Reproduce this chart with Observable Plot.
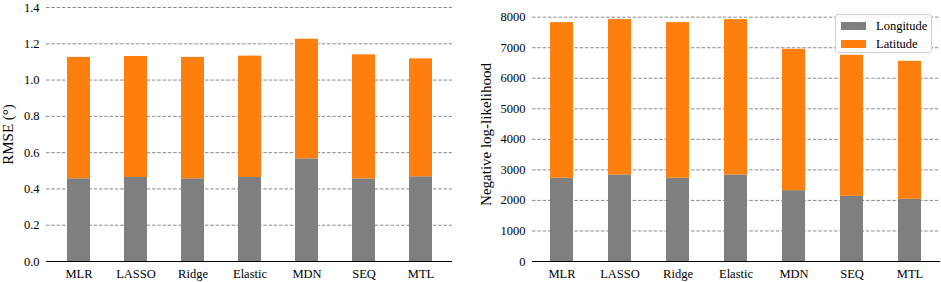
<!DOCTYPE html>
<html>
<head>
<meta charset="utf-8">
<script src="https://cdn.jsdelivr.net/npm/d3@7"></script>
<script src="https://cdn.jsdelivr.net/npm/@observablehq/plot@0.6"></script>
<style>
  html, body { margin: 0; padding: 0; background: #fff; }
  #wrap { position: relative; width: 941px; height: 282px; font-family: "Liberation Serif", "Times New Roman", serif; }
  #left { position: absolute; left: 0; top: 0; }
  #right { position: absolute; left: 470px; top: 0; }
  #legend { position: absolute; left: 835px; top: 14px; width: 97px; height: 39px; border: 1px solid #d0d0d0; border-radius: 3px; background: rgba(255,255,255,0.85); font-size: 12.5px; box-sizing: border-box; }
  .item { position: absolute; left: 5px; height: 12px; display: flex; align-items: center; }
  .sw { width: 25px; height: 8px; margin-right: 10px; }
</style>
</head>
<body>
<div id="wrap">
  <div id="left"></div>
  <div id="right"></div>
  <div id="legend"></div>
</div>
<script>
const models = ["MLR", "LASSO", "Ridge", "Elastic", "MDN", "SEQ", "MTL"];
const seriesNames = ["Longitude", "Latitude"];
const seriesColors = ["#7f7f7f", "#ff7f0e"];
const rmseLongitude = [0.456, 0.463, 0.456, 0.463, 0.566, 0.455, 0.467];
const rmseLatitude  = [0.669, 0.667, 0.669, 0.669, 0.659, 0.684, 0.650];
const nllLongitude = [2725, 2834, 2725, 2834, 2320, 2134, 2035];
const nllLatitude  = [5098, 5087, 5098, 5087, 4629, 4618, 4520];
const rmseTicks = [0, 0.2, 0.4, 0.6, 0.8, 1.0, 1.2, 1.4];
const nllTicks = [0, 1000, 2000, 3000, 4000, 5000, 6000, 7000, 8000];

function rows(lon, lat) {
  const out = [];
  models.forEach((m, i) => out.push({model: m, series: "Longitude", value: lon[i]}));
  models.forEach((m, i) => out.push({model: m, series: "Latitude", value: lat[i]}));
  return out;
}

function chart({data, width, marginLeft, marginRight, domain, ticks, format, label, labelOffset}) {
  return Plot.plot({
    width, height: 282,
    marginLeft, marginRight, marginTop: 7, marginBottom: 21,
    style: {fontFamily: '"Liberation Serif", "Times New Roman", serif', fontSize: "12.5px", color: "#000", background: "#fff"},
    x: {domain: models, paddingInner: 0.6, paddingOuter: 0.31, label: null},
    y: {domain, label: null},
    color: {domain: seriesNames, range: seriesColors},
    marks: [
      Plot.gridY(ticks.filter(t => t > 0), {stroke: "#8a8a8a", strokeOpacity: 1, strokeWidth: 1, strokeDasharray: "3.5,1.8"}),
      Plot.barY(data, {x: "model", y: "value", fill: "series", order: seriesNames}),
      Plot.ruleY([0], {stroke: "#000", strokeWidth: 1.2}),
      Plot.axisX({tickSize: 0, tickPadding: 8, fontSize: 12.5}),
      Plot.axisY({ticks, tickFormat: format, tickSize: 0, tickPadding: 7, fontSize: 12.5, label: null}),
      Plot.axisY({ticks: [], tickSize: 0, label, labelAnchor: "center", labelArrow: "none", labelOffset, fontSize: 15})
    ]
  });
}

document.getElementById("left").appendChild(chart({
  data: rows(rmseLongitude, rmseLatitude), width: 470, marginLeft: 46, marginRight: 18,
  domain: [0, 1.4], ticks: rmseTicks, format: d3.format(".1f"), label: "RMSE (°)", labelOffset: 44
}));
document.getElementById("right").appendChild(chart({
  data: rows(nllLongitude, nllLatitude), width: 471, marginLeft: 62, marginRight: 1,
  domain: [0, 8317], ticks: nllTicks, format: d3.format("d"), label: "Negative log-likelihood", labelOffset: 52
}));

const legend = document.getElementById("legend");
seriesNames.forEach((s, i) => {
  const it = document.createElement("div");
  it.className = "item";
  it.style.top = (i === 0 ? 5 : 23) + "px";
  it.innerHTML = `<span class="sw" style="background:${seriesColors[i]}"></span><span>${s}</span>`;
  legend.appendChild(it);
});
</script>
</body>
</html>
